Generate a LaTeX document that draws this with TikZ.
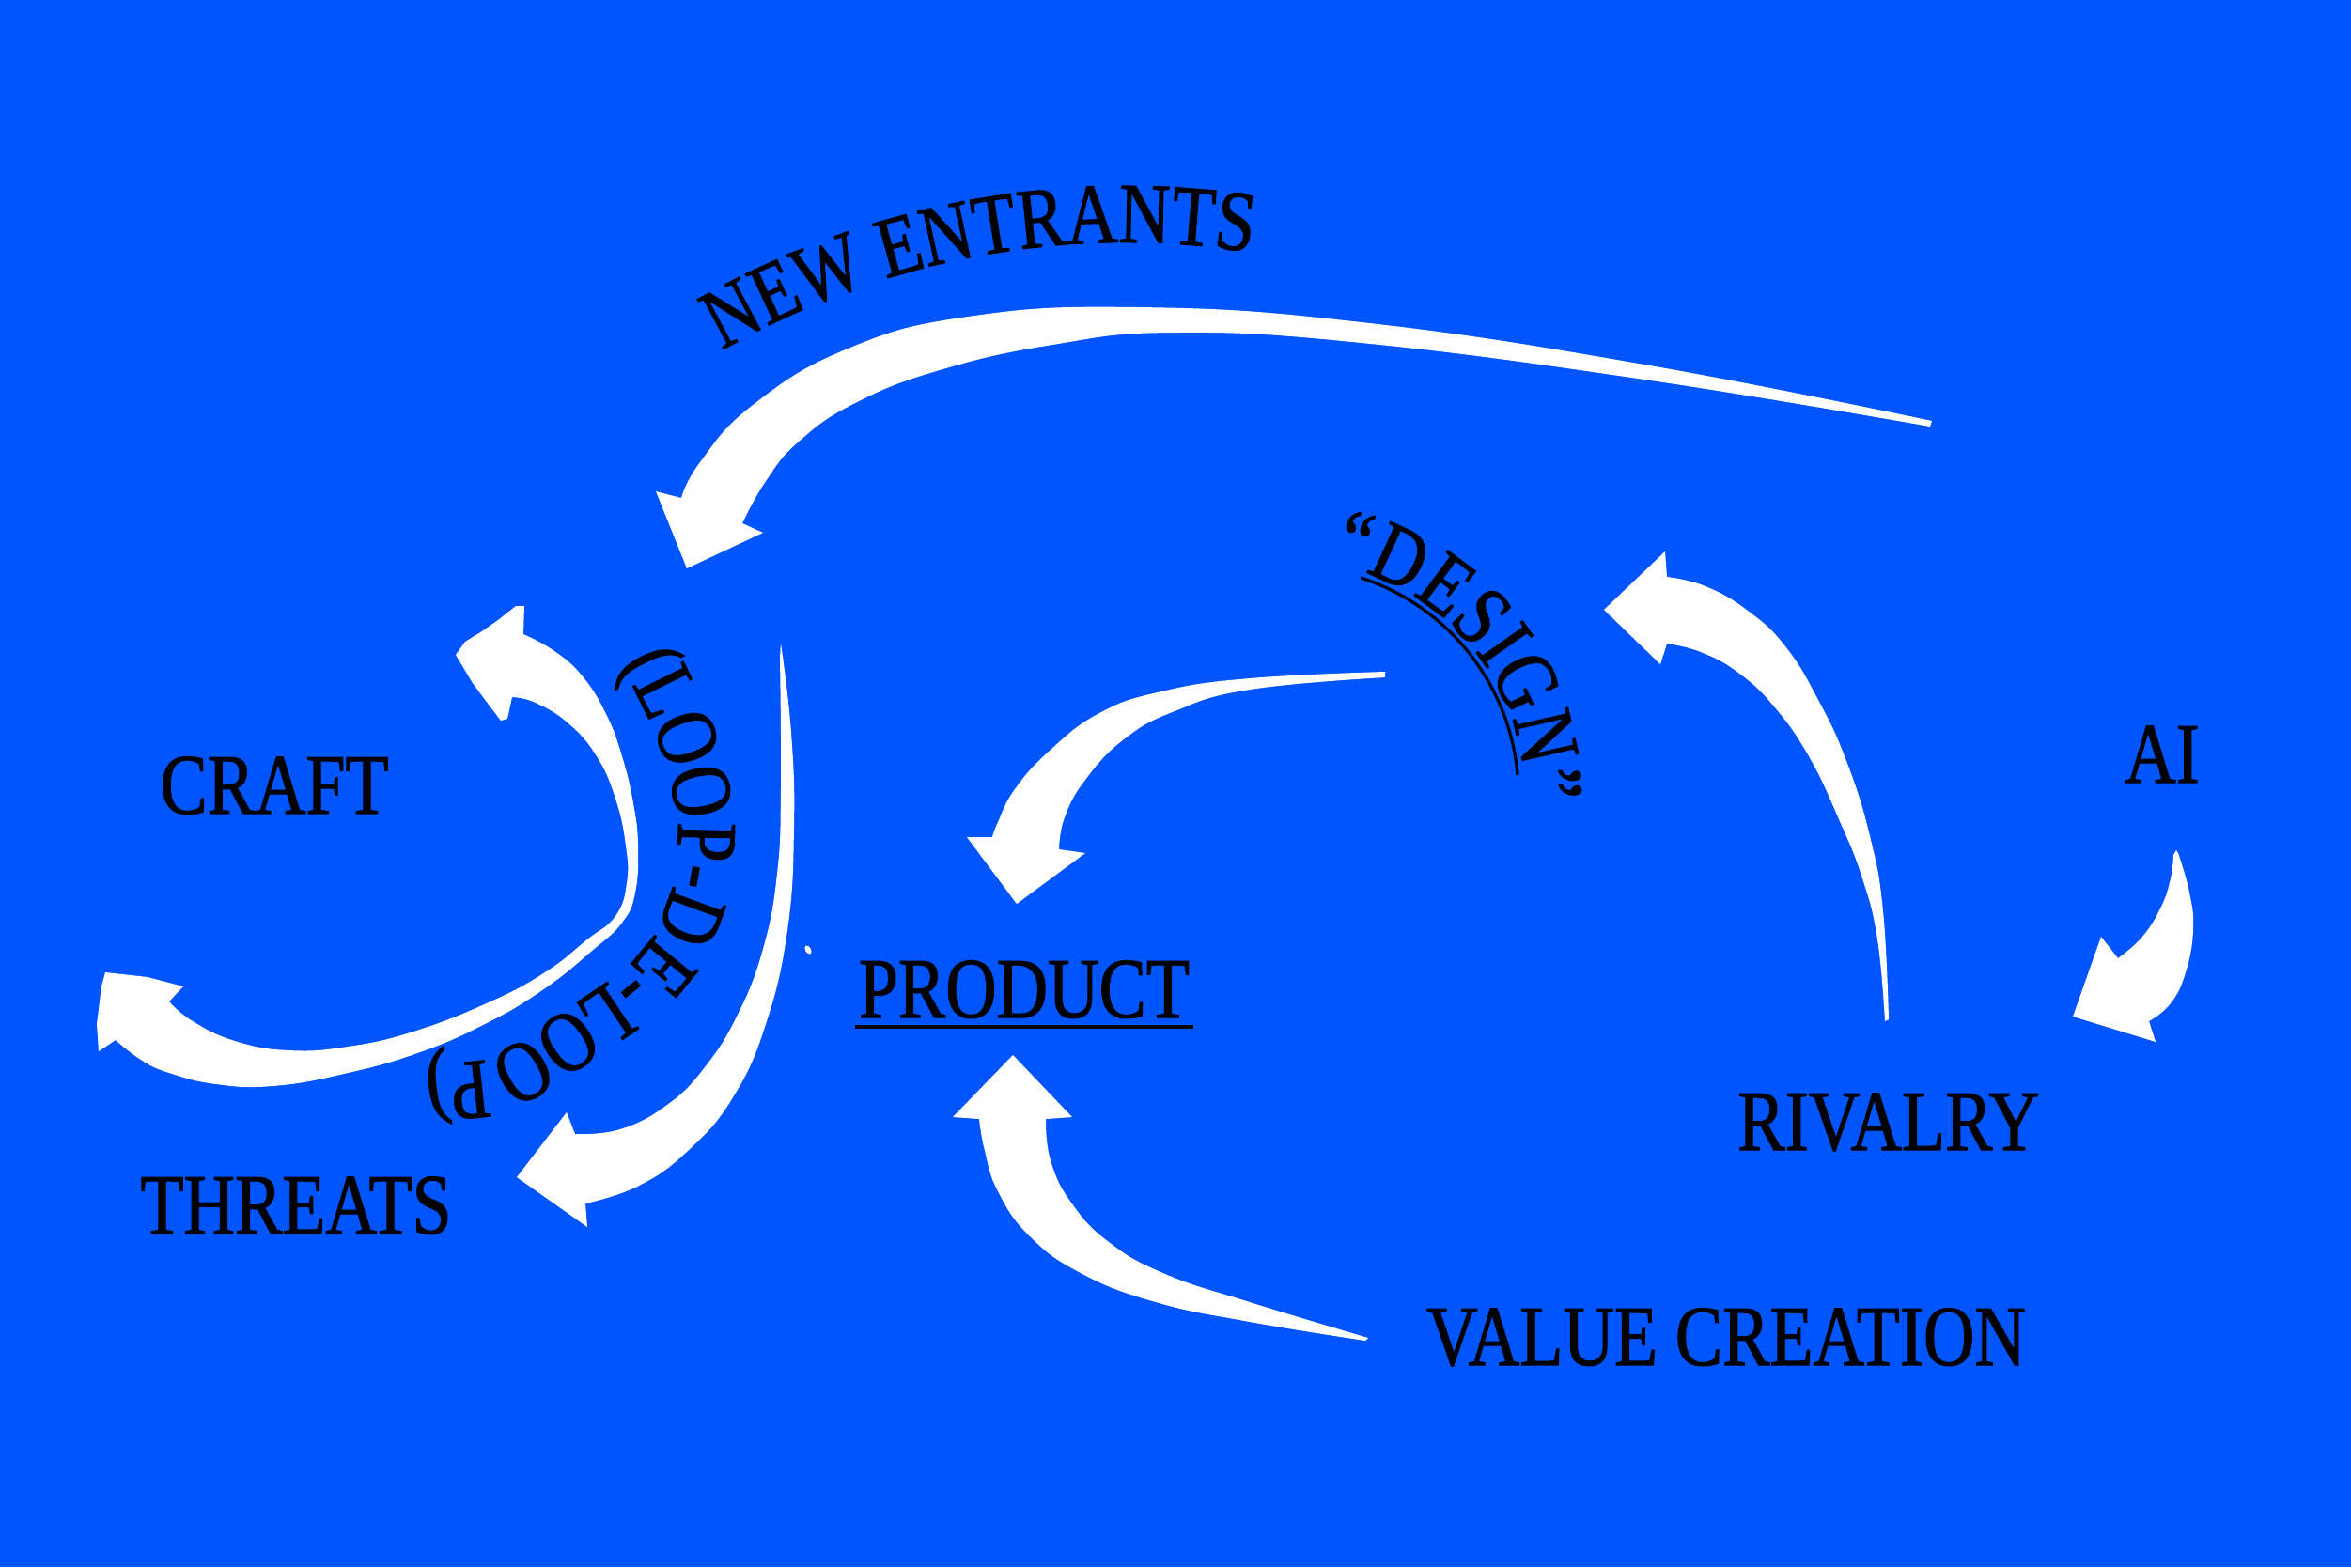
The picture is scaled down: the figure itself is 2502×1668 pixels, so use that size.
\documentclass[tikz,border=0pt]{standalone}
\usepackage{fontspec}
\usetikzlibrary{decorations.text,calc}
\newfontfamily\lblfont[FakeStretch=0.825,FakeBold=1.2]{Liberation Serif}
\definecolor{bgblue}{RGB}{0,85,255}
\newcommand{\lblsize}{\lblfont\fontsize{26}{30}\selectfont}
\begin{document}
\begin{tikzpicture}[x=0.01cm,y=-0.01cm,
  lbl/.style={font=\lblsize, inner sep=0pt, text=black},
  arrowfill/.style={fill=white},
  sm/.style={smooth, tension=0.75},
  uline/.style={draw=black, line width=0.9pt}]
\useasboundingbox (0,0) rectangle (2502,1668);
\fill[bgblue] (0,0) rectangle (2502,1668);

% ---------- labels ----------
\node[lbl, anchor=base] (craft)   at (292,866)   {CRAFT};
\node[lbl, anchor=base] (threats) at (315,1313)  {THREATS};
\node[lbl, anchor=base] (product) at (1090,1083) {PRODUCT};
\node[lbl, anchor=base] (rivalry) at (2010,1224) {RIVALRY};
\node[lbl, anchor=base] (ai)      at (2301,833)  {AI};
\node[lbl, anchor=base] (value)   at (1837,1453) {VALUE CREATION};
\draw[uline] ($(product.base west)+(-3,10)$) -- ($(product.base east)+(3,10)$);

% ---------- curved labels ----------
\path[decorate, decoration={text along path, text={|\lblsize|NEW ENTRANTS}, text align=center}]
  (1198,1118) ++(-124:860) arc[start angle=-124, end angle=-77, radius=860];
\path[decorate, decoration={text along path, text={|\lblsize|“DESIGN”}, text align=center, raise=0.06cm}]
  (1373,846) ++(-90:243) arc[start angle=-90, end angle=12, radius=243];
\draw[uline] (1373,846) ++(-72:243) arc[start angle=-72, end angle=-5, radius=243];
\path[decorate, decoration={text along path, text={|\lblsize|(LOOP-DE-LOOP)}, text align=center}]
  (652,687) -- (670,723)
  .. controls (679,743) and (698.5,777) .. (707,808)
  .. controls (715.5,838.7) and (724.3,873.8) .. (721,907)
  .. controls (717.7,940.2) and (708.3,978) .. (687,1007)
  .. controls (665.7,1036) and (622.2,1060.7) .. (593,1081)
  .. controls (563.8,1101.3) and (539.2,1119.5) .. (512,1129)
  -- (430,1138);

% ---------- arrows ----------
% new entrants
\fill[arrowfill] plot[sm] coordinates {(2056,448) (1750,388) (1449,343) (1211,327) (1030,337) (900,372) (800,432) (745,492) (725,530)}
  -- (698,523) -- (731,605) -- (812,567) -- (790,557)
  -- plot[sm] coordinates {(790,557) (815,512) (850,470) (910,429) (1000,394) (1120,367) (1250,354) (1449,365) (1750,404) (2054,454)} -- cycle;
% design -> product
\fill[arrowfill] plot[sm] coordinates {(1474,715) (1330,722) (1236,736) (1170,759) (1117,799) (1080,840) (1062,875) (1056,891)}
  -- (1029,891) -- (1082,962) -- (1155,908) -- (1127,904)
  -- plot[sm] coordinates {(1127,904) (1133,870) (1155,830) (1196,787) (1250,757) (1330,734) (1474,721)} -- cycle;
% value creation -> product
\fill[arrowfill] (1078,1123) -- (1141,1189) -- (1113,1191)
  -- plot[sm] coordinates {(1113,1191) (1118,1235) (1140,1280) (1180,1322) (1240,1356) (1330,1386) (1456,1424)}
  -- plot[sm] coordinates {(1453,1427) (1330,1407) (1230,1386) (1150,1355) (1095,1315) (1062,1268) (1048,1225) (1042,1191)}
  -- (1014,1189) -- cycle;
% rivalry -> design
\fill[arrowfill] (1707,649) -- (1772,587) -- (1774,614)
  -- plot[sm] coordinates {(1774,614) (1815,624) (1860,650) (1900,688) (1935,745) (1965,810) (1990,890) (2004,970) (2010,1085)}
  -- plot[sm] coordinates {(2006,1087) (1998,1000) (1982,935) (1957,872) (1925,805) (1888,752) (1850,716) (1810,694) (1774,685)}
  -- (1767,707) -- cycle;
% ai -> rivalry
\fill[arrowfill] (2206,1082) -- (2236,997) -- (2254,1020)
  -- plot[sm] coordinates {(2254,1020) (2280,997) (2300,965) (2310,935) (2313,910)}
  -- (2316,905)
  -- plot[sm] coordinates {(2318,908) (2330,950) (2334,990) (2326,1035) (2310,1068) (2287,1087)}
  -- (2294,1109) -- cycle;
% loop-de-loop
\fill[arrowfill] plot[sm] coordinates {(831,685) (842,780) (845,880) (838,990) (815,1090) (780,1168) (733,1224) (680,1262) (623,1281)}
  -- (625,1306) -- (550,1253) -- (603,1184) -- (612,1207)
  -- plot[sm] coordinates {(612,1207) (660,1202) (710,1176) (750,1136) (785,1080) (812,1010) (827,930) (831,840) (830,700)} -- cycle;
% craft / threats double arrow
\fill[arrowfill] (485,697) -- (495,683) -- (513,672) -- (530,660) -- (549,645) -- (558,645) -- (557,675)
  -- plot[sm] coordinates {(557,675) (590,693) (620,720) (645,760) (662,805) (674,855) (679,900) (676,950) (662,982) (630,1012) (580,1052) (520,1088) (447,1120) (366,1143) (290,1156) (230,1154) (180,1142) (150,1128) (123,1107)}
  -- (105,1119) -- (103,1090) -- (108,1050) -- (112,1035) -- (157,1040) -- (195,1050) -- (180,1066)
  -- plot[sm] coordinates {(180,1066) (205,1087) (250,1108) (307,1118) (370,1114) (440,1098) (520,1067) (580,1035) (625,1000) (655,975) (667,940) (666,900) (655,850) (635,805) (605,770) (570,748) (545,742)}
  -- (540,765) -- (533,767) -- (520,750) -- (503,727) -- cycle;
% small speck
\fill[arrowfill, rotate around={30:(860,1011)}] (860,1011) ellipse [x radius=3, y radius=5];
\end{tikzpicture}
\end{document}
